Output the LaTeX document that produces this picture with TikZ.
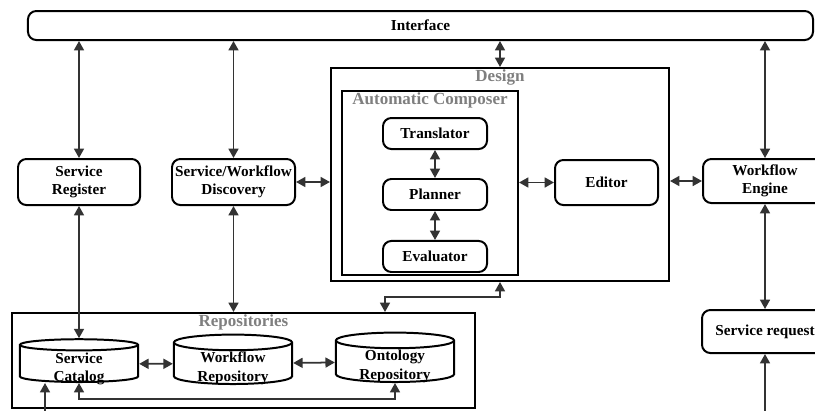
\documentclass[tikz,border=0pt]{standalone}
\usepackage{fontspec}
\setmainfont{Liberation Serif}
\usetikzlibrary{positioning}
\usetikzlibrary{shapes.geometric}
\usetikzlibrary{arrows.meta}
\definecolor{linkgray}{HTML}{333333}
\definecolor{titlegray}{HTML}{7F7F7F}
\newcommand{\lidgap}{\rule{0pt}{17pt}}
\tikzset{
	block/.style={
		rectangle,
		draw,
		line width=1.7pt,
		align=center,
		rounded corners=.25cm,
		inner sep=0pt,
		font=\fontsize{13}{15.5}\selectfont\bfseries
	},
	frame/.style={
		rectangle,
		draw,
		line width=1.7pt,
		inner sep=0pt
	},
	store/.style={
		cylinder,
		shape border rotate=90,
		aspect=0.22,
		draw,
		line width=1.7pt,
		align=center,
		anchor=south,
		inner xsep=0pt,
		inner ysep=-7pt,
		minimum width=3.55cm,
		font=\fontsize{13}{15.5}\selectfont\bfseries
	},
	title/.style={
		text=titlegray,
		inner sep=2pt,
		font=\fontsize{14.5}{17}\selectfont\bfseries
	},
	link/.style={
		draw=linkgray,
		line width=1.5pt,
		{Triangle[length=8pt,width=8.5pt]}-{Triangle[length=8pt,width=8.5pt]}
	},
	feed/.style={
		draw=linkgray,
		line width=1.5pt,
		-{Triangle[length=8pt,width=8.5pt]}
	}
}

\begin{document}
\begin{tikzpicture}[x=0.03cm, y=-0.03cm]
		\useasboundingbox (0,0) rectangle (815,410);
		\clip (0,0) rectangle (815,410);

		\draw node[block, minimum width=23.55cm, minimum height=0.87cm](Interface) at (420.5,25.5){Interface};
		\draw node[block, minimum width=3.66cm, minimum height=1.38cm](Register) at (79,182){Service\\Register};
		\draw node[block, minimum width=3.69cm, minimum height=1.38cm](Discovery) at (233.5,182){Service/Workflow\\Discovery};

		\draw node[frame, minimum width=10.14cm, minimum height=6.39cm,
			label={[title, anchor=north]north:Design}](Design) at (500,174.5){};
		\draw node[frame, minimum width=5.28cm, minimum height=5.52cm,
			label={[title, anchor=north]north:Automatic Composer}](Composer) at (430,183){};
		\draw node[block, minimum width=3.12cm, minimum height=0.93cm](Translator) at (435,133.5){Translator};
		\draw node[block, minimum width=3.12cm, minimum height=0.93cm, below=0.84cm of Translator](Planner){Planner};
		\draw node[block, minimum width=3.12cm, minimum height=0.93cm, below=0.87cm of Planner](Evaluator){Evaluator};
		\draw node[block, minimum width=3.09cm, minimum height=1.35cm](Editor) at (606.5,182.5){Editor};

		\draw node[block, minimum width=3.72cm, minimum height=1.32cm](Engine) at (765,181){Workflow\\Engine};
		\draw node[block, minimum width=3.78cm, minimum height=1.29cm](Request) at (765,331.5){Service request};

		\draw node[frame, minimum width=13.89cm, minimum height=2.85cm,
			label={[title, anchor=north]north:Repositories}](Repos) at (243.5,360.5){};
		\draw node[store](Catalog) at (79,383){\lidgap Service\\Catalog};
		\draw node[store](WfRepo) at (233,385){\lidgap Workflow\\Repository};
		\draw node[store](Ontology) at (395,383){\lidgap Ontology\\Repository};

		\coordinate (reqin) at (765,412);
		\coordinate (catin) at (45,412);

		\draw [link] (Interface.south -| Register) -- (Register);
		\draw [link] (Interface.south -| Discovery) -- (Discovery);
		\draw [link] (Interface.south -| Design) -- (Design.north);
		\draw [link] (Interface.south -| Engine) -- (Engine);
		\draw [link] (Discovery.east) -- (Discovery.east -| Design.west);
		\draw [link] (Editor.west -| Composer.east) -- (Editor.west);
		\draw [link] (Engine.west -| Design.east) -- (Engine.west);
		\draw [link] (Translator) -- (Planner);
		\draw [link] (Planner) -- (Evaluator);
		\draw [link] (Engine) -- (Request);
		\draw [feed] (reqin) -- (Request);

		\draw [link] (Register) -- (Catalog.north);
		\draw [link] (Discovery) -- (Discovery |- Repos.north);
		\draw [link] (Design.south) -- ++(0,15) -| (385,0 |- Repos.north);
		\draw [link] (Catalog) -- (WfRepo);
		\draw [link] (WfRepo) -- (Ontology);
		\draw [link] (Catalog.south) -- ++(0,16) -| (Ontology.south);
		\draw [feed] (catin) -- (catin |- Catalog.south);
	\end{tikzpicture}
\end{document}
